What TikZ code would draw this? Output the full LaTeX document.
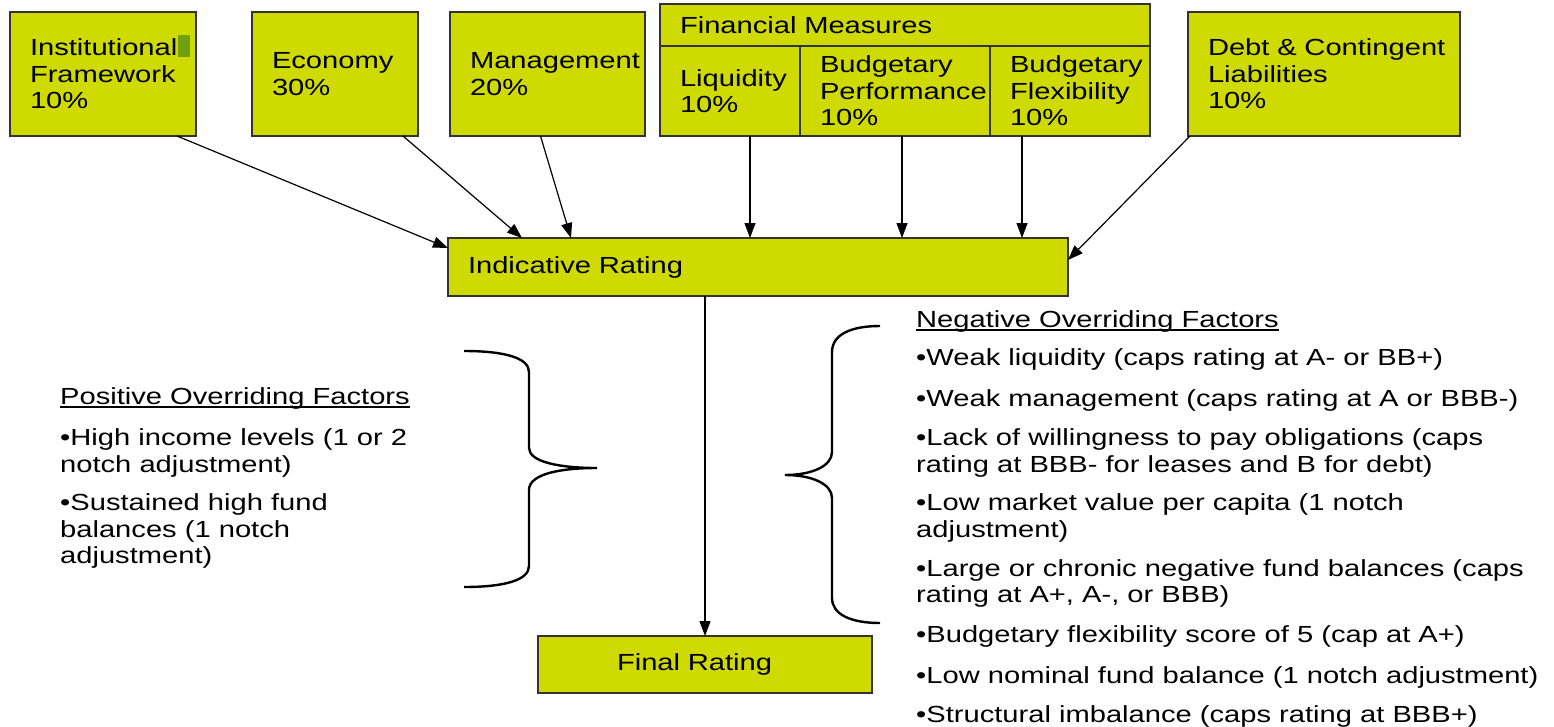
\documentclass[tikz,border=0pt]{standalone}
\usepackage{fontspec}
\setmainfont{Liberation Sans}[FakeStretch=1.25]
\usetikzlibrary{arrows.meta,positioning,calc}
\definecolor{boxgreen}{RGB}{206,218,0}
\definecolor{markgreen}{RGB}{112,160,16}
\hyphenpenalty=10000

\tikzset{
	factor/.style={draw=black!80, fill=boxgreen, line width=1.6pt, anchor=north west, align=left, inner xsep=20pt, inner ysep=0pt, outer sep=0pt},
	feed/.style={-{Triangle[length=15pt,width=11pt]}, line width=1.2pt},
	brace/.style={line width=2.4pt},
	item/.style={anchor=base west, inner sep=0pt},
}

\begin{document}
\begin{tikzpicture}[x=1pt, y=-1pt, font=\fontsize{23.3}{26.5}\selectfont]
	\useasboundingbox (0,0) rectangle (1554,726);

	% rating factors
	\node[factor, text width=146pt, minimum height=124pt] (inst) at (10,12) {Institutional\\Framework\\10\%};
	\node[factor, text width=126pt, minimum height=124pt] (econ) at (252,12) {Economy\\30\%};
	\node[factor, text width=155pt, minimum height=124pt] (mgmt) at (450,12) {Management\\20\%};
	\node[factor, text width=450pt, minimum height=42pt] (fin) at (660,4) {Financial Measures};
	\node[factor, text width=100pt, minimum height=90pt] (liq) at (fin.south west) {Liquidity\\10\%};
	\node[factor, text width=150pt, minimum height=90pt] (bperf) at (liq.north east) {Budgetary\\Performance\\10\%};
	\node[factor, text width=120pt, minimum height=90pt] (bflex) at (bperf.north east) {Budgetary\\Flexibility\\10\%};
	\node[factor, text width=232pt, minimum height=124pt] (debt) at (1188,12) {Debt~\&~Contingent\\Liabilities\\10\%};
	\fill[markgreen] (178,35) rectangle (190,57);

	\node[factor, text width=580pt, minimum height=58pt] (ind) at (448,238) {Indicative Rating};
	\node[factor, text width=294pt, minimum height=57pt] (final) at (538,636) {\hspace*{59pt}Final Rating};

	\draw[feed] ([xshift=74pt]inst.south) -- ([yshift=-10pt]ind.north west);
	\draw[feed] ([xshift=68pt]econ.south) -- ([xshift=74pt]ind.north west);
	\draw[feed] ([xshift=-7pt]mgmt.south) -- ([xshift=123pt]ind.north west);
	\draw[feed] ([xshift=20pt]liq.south) -- ([xshift=20pt]liq.south |- ind.north);
	\draw[feed] ([xshift=7pt]bperf.south) -- ([xshift=7pt]bperf.south |- ind.north);
	\draw[feed] ([xshift=-48pt]bflex.south) -- ([xshift=-48pt]bflex.south |- ind.north);
	\draw[feed] ([xshift=2pt]debt.south west) -- ([yshift=-22pt]ind.north east);
	\draw[feed] (final.north |- ind.south) -- (final.north);

	% overriding factors
	\node[item] (poshead) at (60,404) {Positive Overriding Factors};
	\draw[line width=1.3pt] ([yshift=-3pt]poshead.base west) -- ([yshift=-3pt]poshead.base east);
	\foreach \y/\txt [count=\i] in {445/{•High income levels (1 or 2}, 472/{notch adjustment)},
		510/{•Sustained high fund}, 537/{balances (1 notch}, 563/{adjustment)}}
		\node[item] (pos\i) at (60,\y) {\txt};

	\node[item] (neghead) at (916,327) {Negative Overriding Factors};
	\draw[line width=1.3pt] ([yshift=-3pt]neghead.base west) -- ([yshift=-3pt]neghead.base east);
	\foreach \y/\txt [count=\i] in {365/{•Weak liquidity (caps rating at A- or BB+)},
		406/{•Weak management (caps rating at A or BBB-)},
		445/{•Lack of willingness to pay obligations (caps}, 472/{rating at BBB- for leases and B for debt)},
		510/{•Low market value per capita (1 notch}, 537/{adjustment)},
		576/{•Large or chronic negative fund balances (caps}, 602/{rating at A+, A-, or BBB)},
		642/{•Budgetary flexibility score of 5 (cap at A+)},
		683/{•Low nominal fund balance (1 notch adjustment)},
		722/{•Structural imbalance (caps rating at BBB+)}}
		\node[item] (neg\i) at (916,\y) {\txt};

	% braces
	\draw[brace] (464,351) .. controls (505,351) and (529,358) .. (529,372) -- (529,448)
		.. controls (529,462) and (560,468) .. (597,468) .. controls (560,468) and (529,474) .. (529,490)
		-- (529,566) .. controls (529,580) and (505,587) .. (464,587);
	\draw[brace] (880,326) .. controls (850,326) and (832,335) .. (832,352) -- (832,452)
		.. controls (832,466) and (812,475) .. (785,475) .. controls (812,475) and (832,484) .. (832,498)
		-- (832,598) .. controls (832,614) and (850,623) .. (880,623);
\end{tikzpicture}
\end{document}
